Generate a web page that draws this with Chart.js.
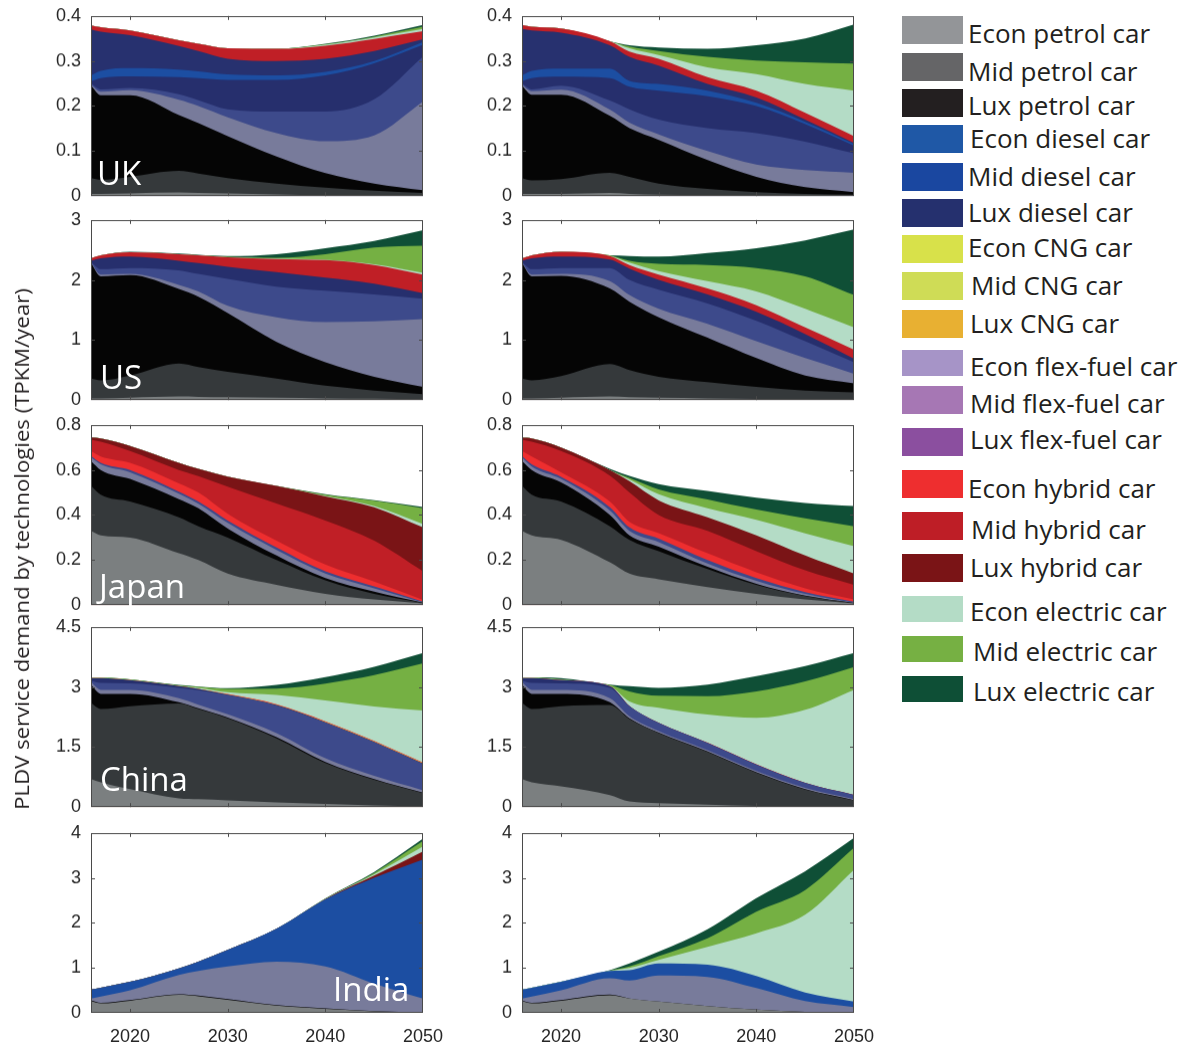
<!DOCTYPE html>
<html>
<head>
<meta charset="utf-8">
<title>PLDV service demand by technologies</title>
<script src="https://cdn.jsdelivr.net/npm/chart.js@4.4.1/dist/chart.umd.min.js"></script>
<style>
  body { margin: 0; background: #fff; }
  #page { position: relative; width: 1190px; height: 1048px; overflow: hidden; font-family: 'Open Sans', sans-serif; }
  #page canvas { position: absolute; }
  .tag { position: absolute; color: #fff; font: 33px/33px 'Open Sans', sans-serif; white-space: nowrap; z-index: 5; }
  .sw { position: absolute; left: 902px; width: 61px; }
  .lt { position: absolute; font: 26px/26px 'Open Sans', sans-serif; color: #231f20; white-space: nowrap; }
  #ytitle { position: absolute; left: 22px; top: 549px; font: 20px/24px 'Open Sans', sans-serif; color: #231f20; white-space: nowrap; }
</style>
</head>
<body>
<div id="page"></div>
<script>
// ---------------------------------------------------------------
// Data: service demand (TPKM/year) per technology layer, per year
// ---------------------------------------------------------------
const YEARS = [2016, 2017, 2020, 2025, 2027, 2030, 2035, 2040, 2045, 2050];

// stacking order, bottom to top
const LAYERS = [
  'Econ petrol car', 'Mid petrol car', 'Lux petrol car',
  'Econ diesel car', 'Mid diesel car', 'Lux diesel car',
  'Econ flex-fuel car', 'Mid flex-fuel car', 'Lux CNG car',
  'Econ hybrid car', 'Mid hybrid car', 'Lux hybrid car',
  'Econ electric car', 'Mid electric car', 'Lux electric car'
];

// null = technology absent in that region
const ukBaseline = [
  [.005, .005, .006, .008, .007, .006, .004, .002, .001, .0005],
  [.035, .031, .037, .048, .043, .034, .024, .017, .011, .0065],
  [.205, .188, .181, .124, .112, .093, .060, .032, .016, .006],
  [.002, .008, .011, .034, .038, .042, .052, .071, .107, .197],
  [.003, .005, .005, .012, .013, .018, .048, .066, .080, .100],
  [.005, .025, .026, .038, .049, .065, .070, .080, .080, .026],
  [.013, .016, .018, .017, .015, .012, .010, .008, .005, .006],
  [.102, .087, .073, .052, .045, .035, .032, .029, .022, .006],
  null,
  null,
  [.009, .010, .011, .013, .016, .023, .027, .029, .027, .018],
  null,
  [0, 0, 0, 0, 0, 0, 0, .002, .003, .005],
  [0, 0, 0, 0, 0, 0, 0, .001, .002, .005],
  [0, 0, 0, 0, 0, 0, 0, .001, .002, .004]
];
const ukPolicy = [
  [.005, .005, .005, .007, .005, .003, .002, .001, .0005, 0],
  [.035, .030, .033, .045, .038, .025, .014, .008, .0045, .003],
  [.205, .190, .187, .126, .108, .097, .064, .034, .015, .006],
  [.002, .008, .011, .014, .012, .012, .020, .027, .038, .043],
  [.003, .004, .009, .020, .030, .033, .051, .070, .063, .043],
  [.005, .025, .020, .050, .050, .064, .071, .060, .039, .017],
  [.013, .016, .018, .021, .013, .015, .012, .007, .005, .004],
  [.103, .090, .080, .052, .053, .041, .015, .012, .005, .002],
  null,
  null,
  [.009, .008, .009, .009, .012, .015, .015, .015, .015, .015],
  null,
  [0, 0, 0, 0, .007, .008, .022, .037, .064, .101],
  [0, 0, 0, 0, .004, .009, .023, .030, .048, .060],
  [0, 0, 0, 0, .003, .008, .018, .034, .053, .087]
];
const usBaseline = [
  [.03, .03, .04, .06, .055, .05, .04, .03, .025, .02],
  [.33, .30, .37, .55, .495, .42, .32, .21, .135, .08],
  [1.92, 1.73, 1.67, 1.24, 1.17, .98, .61, .39, .23, .12],
  [.01, .03, .02, .07, .09, .12, .41, .67, .92, 1.13],
  [.01, .09, .10, .24, .29, .45, .51, .52, .45, .34],
  [.02, .18, .19, .16, .18, .20, .24, .22, .18, .09],
  null, null, null, null,
  [.04, .05, .07, .11, .13, .16, .22, .29, .31, .31],
  null,
  [0, 0, 0, 0, 0, 0, .005, .005, .01, .03],
  [0, 0, 0, 0, 0, .005, .015, .095, .28, .45],
  [0, 0, .01, .01, .01, .015, .06, .10, .11, .26]
];
const usPolicy = [
  [.03, .03, .04, .06, .05, .04, .03, .02, .015, .01],
  [.33, .30, .36, .54, .45, .35, .27, .20, .145, .12],
  [1.92, 1.73, 1.67, 1.26, 1.14, .99, .74, .48, .25, .15],
  [.01, .03, .03, .12, .11, .14, .23, .28, .29, .16],
  [.01, .09, .10, .22, .25, .32, .34, .34, .28, .19],
  [.02, .18, .19, .14, .19, .16, .15, .15, .12, .06],
  null, null, null, null,
  [.04, .05, .08, .06, .06, .09, .10, .11, .11, .15],
  null,
  [0, 0, 0, 0, .04, .06, .12, .23, .31, .37],
  [0, 0, 0, .01, .03, .12, .27, .39, .54, .54],
  [0, 0, 0, 0, .08, .12, .20, .33, .60, 1.09]
];
const jpBaseline = [
  [.33, .31, .30, .23, .20, .14, .09, .05, .025, .008],
  [.20, .18, .16, .16, .15, .16, .11, .06, .025, .002],
  [.11, .11, .10, .08, .08, .04, .02, .01, .01, .001],
  [.015, .025, .03, .025, .02, .025, .025, .02, .015, .001],
  [.007, .007, .01, .009, .01, .011, .011, .01, .008, .003],
  null, null, null, null,
  [.022, .028, .032, .037, .04, .03, .03, .03, .022, .008],
  [.05, .065, .052, .059, .073, .12, .165, .196, .181, .127],
  [.01, .015, .023, .032, .032, .045, .078, .107, .149, .195],
  [0, 0, 0, 0, 0, 0, 0, .002, .005, .015],
  [0, 0, 0, 0, 0, 0, 0, .005, .023, .07],
  [0, 0, 0, 0, 0, 0, 0, .003, .003, .006]
];
const jpPolicy = [
  [.33, .31, .29, .19, .14, .115, .08, .05, .025, .008],
  [.20, .18, .17, .16, .15, .125, .08, .04, .015, .001],
  [.11, .11, .085, .05, .02, .02, .01, .005, .002, .001],
  [.015, .015, .015, .02, .02, .02, .015, .013, .008, .001],
  [.007, .01, .01, .015, .015, .015, .015, .012, .008, .004],
  null, null, null, null,
  [.022, .035, .02, .025, .025, .025, .03, .026, .017, .01],
  [.05, .065, .094, .115, .13, .08, .10, .094, .08, .065],
  [.01, .015, .016, .025, .05, .065, .06, .07, .065, .05],
  [0, 0, 0, 0, .008, .027, .04, .069, .099, .122],
  [0, 0, 0, 0, .007, .022, .039, .045, .067, .088],
  [0, 0, 0, .005, .009, .023, .038, .053, .068, .09]
];
const cnBaseline = [
  [.70, .62, .45, .22, .20, .17, .12, .08, .04, .02],
  [1.90, 1.83, 2.07, 2.37, 2.25, 2.05, 1.60, 1.02, .64, .33],
  [.45, .38, .31, .03, .02, .02, .03, .03, .02, .01],
  [.07, .10, .10, .10, .09, .08, .10, .09, .08, .06],
  [.03, .17, .16, .26, .36, .48, .69, .89, .84, .66],
  [.07, .12, .08, .04, .03, .01, .01, .01, .01, .01],
  null, null,
  [0, 0, 0, 0, 0, .005, .008, .01, .01, .01],
  [0, 0, 0, 0, .005, .01, .012, .015, .015, .015],
  null, null,
  [.01, .01, .01, .01, .025, .045, .23, .52, .86, 1.295],
  [.01, .01, .01, .01, .02, .08, .16, .42, .78, 1.18],
  [0, 0, 0, .01, .01, .02, .09, .16, .21, .26]
];
const cnPolicy = [
  [.70, .62, .52, .30, .14, .10, .06, .03, .012, .005],
  [1.90, 1.83, 2.00, 2.25, 2.06, 1.75, 1.32, .83, .428, .165],
  [.45, .38, .31, .07, .02, .01, .01, .01, .01, .005],
  [.07, .10, .10, .10, .05, .04, .03, .03, .03, .025],
  [.03, .17, .16, .26, .25, .20, .18, .16, .12, .10],
  [.07, .12, .08, .04, .005, .005, .005, .005, .005, .005],
  null, null, null,
  [0, 0, 0, 0, .003, .003, .003, .003, .003, .003],
  null, null,
  [.01, .01, .01, .01, .112, .372, .702, 1.162, 1.822, 2.622],
  [.01, .01, .01, .02, .25, .30, .46, .66, .71, .57],
  [0, 0, .03, .01, .13, .20, .29, .38, .38, .35]
];
const inBaseline = [
  [.26, .21, .27, .40, .37, .29, .16, .09, .035, .008],
  null,
  [.02, .015, .015, .015, .015, .015, .012, .01, .005, .002],
  [.04, .135, .215, .425, .545, .725, .968, .93, .61, .31],
  null, null,
  [.20, .20, .19, .15, .21, .37, .73, 1.49, 2.35, 3.09],
  null, null, null, null,
  [0, 0, 0, 0, 0, 0, 0, .01, .05, .18],
  [0, 0, 0, 0, 0, 0, 0, .005, .03, .11],
  [0, 0, 0, 0, 0, 0, 0, .005, .03, .12],
  [0, 0, 0, 0, 0, 0, 0, .005, .02, .05]
];
const inPolicy = [
  [.26, .21, .27, .39, .32, .25, .15, .07, .02, .005],
  null,
  [.015, .015, .015, .015, 0, 0, 0, 0, 0, 0],
  [.045, .135, .215, .365, .40, .58, .65, .48, .24, .125],
  null, null,
  [.20, .20, .19, .16, .23, .27, .27, .27, .19, .12],
  null, null, null, null, null,
  [0, 0, 0, .005, .05, .08, .40, .95, 1.73, 2.93],
  [0, 0, 0, .005, .03, .08, .19, .48, .55, .49],
  [0, 0, 0, .01, .07, .10, .20, .30, .42, .22]
];

const REGIONS = ['UK', 'US', 'Japan', 'China', 'India'];
const Y_MAX = [0.4, 3, 0.8, 4.5, 4];
const Y_STEP = [0.1, 1, 0.2, 1.5, 1];
const X_TICKS = [2020, 2030, 2040, 2050];

const LEGEND_LABELS = [
  'Econ petrol car', 'Mid petrol car', 'Lux petrol car',
  'Econ diesel car', 'Mid diesel car', 'Lux diesel car',
  'Econ CNG car', 'Mid CNG car', 'Lux CNG car',
  'Econ flex-fuel car', 'Mid flex-fuel car', 'Lux flex-fuel car',
  'Econ hybrid car', 'Mid hybrid car', 'Lux hybrid car',
  'Econ electric car', 'Mid electric car', 'Lux electric car'
];

// ---------------------------------------------------------------
// Styling
// ---------------------------------------------------------------
const LAYER_FILLS = [
  '#7b7f80', '#35393b', '#050505',
  '#787b9b', '#3d4a8b', '#262f6d',
  '#1c4ea2', '#27316f', '#e8b032',
  '#ee2e2f', '#c01f26', '#7a1416',
  '#b4dcc6', '#75b043', '#0f4f36'
];
const LEGEND_FILLS = [
  '#939598', '#656567', '#231f20',
  '#1f58a6', '#1a47a0', '#25306e',
  '#d8e14a', '#cfdc56', '#e8b032',
  '#a694c7', '#a677b4', '#8b4f9f',
  '#ee2e2f', '#be1e26', '#7a1416',
  '#b4dcc6', '#76b043', '#0e4f36'
];

const page = document.getElementById('page');
const ROW_TOP = [16, 220, 425, 627, 833];
const COL_PLOT_LEFT = [91, 522];
const PLOT_H = 180, PLOT_W = 332, AXIS_W = 60, PAD = 12, PAD_R = 24, XAXIS_H = 36;

const framePlugin = {
  id: 'frame',
  afterDatasetsDraw(chart) {
    const { ctx, chartArea: a, scales: { x, y } } = chart;
    ctx.save();
    ctx.strokeStyle = '#4a4a4a';
    ctx.lineWidth = 1;
    ctx.beginPath();
    [2020, 2030, 2040].forEach(v => {
      const px = Math.round(x.getPixelForValue(v)) + 0.5;
      ctx.moveTo(px, a.top); ctx.lineTo(px, a.top + 4);
      ctx.moveTo(px, a.bottom); ctx.lineTo(px, a.bottom - 4);
    });
    y.ticks.forEach(t => {
      if (t.value <= y.min || t.value >= y.max) return;
      const py = Math.round(y.getPixelForValue(t.value)) + 0.5;
      ctx.moveTo(a.left, py); ctx.lineTo(a.left + 4, py);
      ctx.moveTo(a.right, py); ctx.lineTo(a.right - 4, py);
    });
    ctx.stroke();
    ctx.strokeRect(Math.round(a.left) + 0.5, Math.round(a.top) + 0.5,
                   Math.round(a.width) - 1, Math.round(a.height) - 1);
    ctx.restore();
  }
};

function chartConfig(series, row) {
  const bottomRow = row === REGIONS.length - 1;
  const datasets = [];
  series.forEach((vals, i) => {
    if (!vals) return;
    datasets.push({
      label: LAYERS[i],
      data: YEARS.map((yr, k) => ({ x: yr, y: vals[k] })),
      backgroundColor: LAYER_FILLS[i],
      borderColor: 'rgba(0,0,0,0)',
      borderWidth: 0,
      fill: 'origin',
      pointRadius: 0,
      cubicInterpolationMode: 'monotone'
    });
  });
  const tickFont = { family: "'Liberation Sans', Arial, sans-serif", size: 18 };
  return {
    type: 'line',
    data: { datasets },
    options: {
      responsive: false,
      maintainAspectRatio: false,
      animation: false,
      devicePixelRatio: 1,
      events: [],
      layout: { padding: { top: PAD, right: PAD_R, bottom: bottomRow ? 0 : PAD, left: 0 } },
      plugins: { legend: { display: false }, tooltip: { enabled: false } },
      scales: {
        x: {
          type: 'linear', min: 2016, max: 2050,
          display: bottomRow,
          grid: { display: false, drawTicks: false },
          border: { display: false },
          afterBuildTicks: s => { s.ticks = X_TICKS.map(v => ({ value: v })); },
          afterFit: s => { s.height = bottomRow ? XAXIS_H : 0; },
          ticks: { padding: 13, color: '#262626', font: tickFont, maxRotation: 0, autoSkip: false, callback: v => String(v) }
        },
        y: {
          stacked: true, min: 0, max: Y_MAX[row],
          grid: { display: false, drawTicks: false },
          border: { display: false },
          afterFit: s => { s.width = AXIS_W; },
          ticks: { stepSize: Y_STEP[row], padding: 10, color: '#262626', font: tickFont }
        }
      }
    },
    plugins: [framePlugin]
  };
}

function drawPanel(series, row, col) {
  let w = AXIS_W + PLOT_W + PAD_R;
  let h = PAD + PLOT_H + (row === REGIONS.length - 1 ? XAXIS_H : PAD);
  const cv = document.createElement('canvas');
  const setSize = () => {
    cv.width = w; cv.height = h;
    cv.style.width = w + 'px'; cv.style.height = h + 'px';
  };
  setSize();
  page.appendChild(cv);

  // first layout pass measures the room taken by the axes, then the canvas is resized
  let chart = new Chart(cv, chartConfig(series, row));
  const a = chart.chartArea;
  w += PLOT_W - (a.right - a.left);
  h += PLOT_H - (a.bottom - a.top);
  chart.destroy();
  setSize();
  chart = new Chart(cv, chartConfig(series, row));
  cv.style.left = (COL_PLOT_LEFT[col] - chart.chartArea.left) + 'px';
  cv.style.top = (ROW_TOP[row] - chart.chartArea.top) + 'px';
}

const SCENARIOS = [
  [ukBaseline, ukPolicy],
  [usBaseline, usPolicy],
  [jpBaseline, jpPolicy],
  [cnBaseline, cnPolicy],
  [inBaseline, inPolicy]
];
SCENARIOS.forEach((pair, row) => pair.forEach((series, col) => drawPanel(series, row, col)));

// region names inside the left-hand panels
const TAG_POS = [[97, 185], [100, 389], [99, 598], [100, 791], [333, 1001]];
REGIONS.forEach((name, i) => {
  const d = document.createElement('div');
  d.className = 'tag';
  d.textContent = name;
  d.style.left = TAG_POS[i][0] + 'px';
  d.style.top = (TAG_POS[i][1] - 29) + 'px';
  page.appendChild(d);
});

// shared y-axis title
const yt = document.createElement('div');
yt.id = 'ytitle';
yt.textContent = 'PLDV service demand by technologies (TPKM/year)';
page.appendChild(yt);
const k = 522 / yt.offsetWidth;
yt.style.transform = 'translate(-50%,-50%) rotate(-90deg) scaleX(' + k.toFixed(3) + ')';

// legend
const SW_TOP = [16, 53, 89, 125, 163, 199, 235, 272, 310, 350, 386, 428, 470, 512, 554, 596, 636, 676];
const SW_H = [28, 28, 28, 28, 28, 28, 28, 28, 28, 26, 28, 28, 28, 28, 28, 26, 26, 26];
const LT_BASE = [43, 81, 115, 148, 186, 222, 257, 295, 333, 376, 413, 449, 498, 539, 577, 621, 661, 701];
const LT_X = [968, 968, 968, 970, 968, 968, 968, 971, 970, 970, 970, 970, 968, 971, 970, 970, 973, 973];
LEGEND_LABELS.forEach((label, i) => {
  const s = document.createElement('div');
  s.className = 'sw';
  s.style.top = SW_TOP[i] + 'px';
  s.style.height = SW_H[i] + 'px';
  s.style.background = LEGEND_FILLS[i];
  page.appendChild(s);
  const t = document.createElement('div');
  t.className = 'lt';
  t.textContent = label;
  t.style.left = LT_X[i] + 'px';
  t.style.top = (LT_BASE[i] - 23) + 'px';
  page.appendChild(t);
});
</script>
</body>
</html>
